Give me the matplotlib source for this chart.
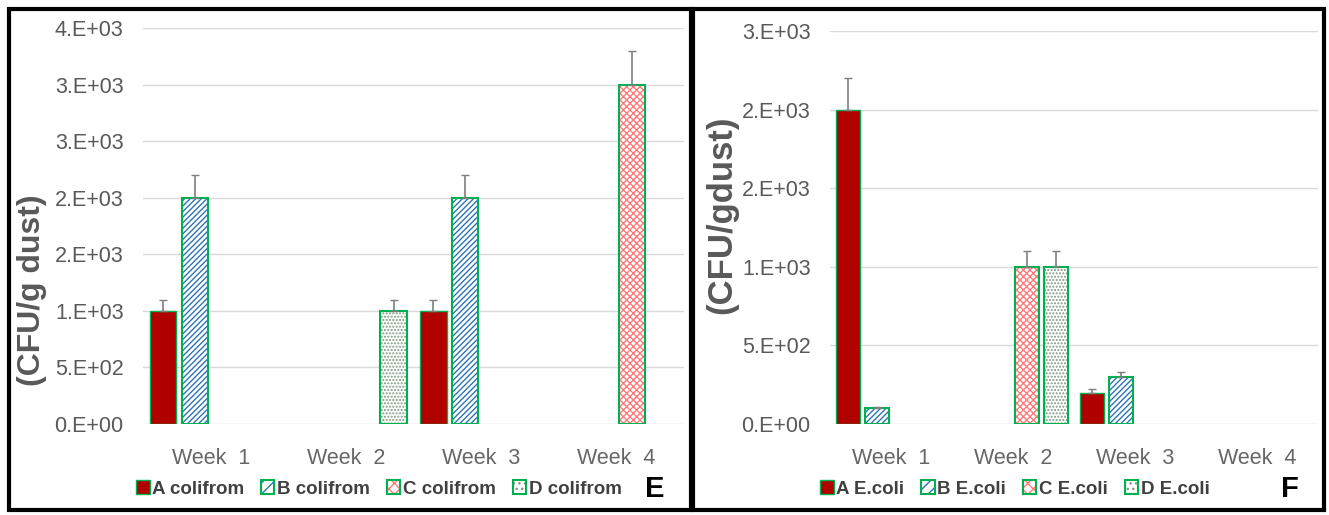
import numpy as np
import matplotlib
matplotlib.use("Agg")
import matplotlib.pyplot as plt
from matplotlib.patches import Patch, Rectangle
from matplotlib.legend_handler import HandlerTuple
from matplotlib.ticker import FuncFormatter, MultipleLocator

plt.rcParams['font.family'] = ['Liberation Sans', 'DejaVu Sans']
plt.rcParams['hatch.linewidth'] = 1.0

nan = np.nan
weeks = ["Week  1", "Week  2", "Week  3", "Week  4"]

# panel E - colifrom counts (CFU/g dust)
coli_labels = ["A colifrom", "B colifrom", "C colifrom", "D colifrom"]
coli_A = [1000, nan, 1000, nan]
coli_B = [2000, nan, 2000, nan]
coli_C = [nan, nan, nan, 3000]
coli_D = [nan, 1000, nan, nan]
coli_A_err = [100, nan, 100, nan]
coli_B_err = [200, nan, 200, nan]
coli_C_err = [nan, nan, nan, 300]
coli_D_err = [nan, 100, nan, nan]

# panel F - E.coli counts (CFU/g dust)
ecoli_labels = ["A E.coli", "B E.coli", "C E.coli", "D E.coli"]
ecoli_A = [2000, nan, 200, nan]
ecoli_B = [100, nan, 300, nan]
ecoli_C = [nan, 1000, nan, nan]
ecoli_D = [nan, 1000, nan, nan]
ecoli_A_err = [200, nan, 20, nan]
ecoli_B_err = [8, nan, 30, nan]
ecoli_C_err = [nan, 100, nan, nan]
ecoli_D_err = [nan, 100, nan, nan]

EDGE = "#00B050"
GREY = "#595959"
# (face, hatch, hatch colour) for series A..D
styles = [
    ("#B00000", None, None),
    ("white", "//////", "#2E75B6"),
    ("white", "xxxxx", "#FF7B7B"),
    ("white", ".....", "#7F9A7F"),
]


def excel_sci(v, pos):
    if v == 0:
        return "0.E+00"
    e = int(np.floor(np.log10(abs(v))))
    m = int(np.floor(v / 10 ** e + 0.5))
    if m == 10:
        m, e = 1, e + 1
    return f"{m}.E+{e:02d}"


def draw_panel(ax, series, errors, ymax):
    x = np.arange(len(weeks))
    step, width = 0.235, 0.195
    for i, (vals, errs) in enumerate(zip(series, errors)):
        vals = np.array(vals, dtype=float)
        errs = np.array(errs, dtype=float)
        ok = ~np.isnan(vals)
        xs = x[ok] + (i - 1.5) * step
        face, hatch, hcol = styles[i]
        if hatch is None:
            ax.bar(xs, vals[ok], width, color=face, edgecolor=EDGE,
                   linewidth=1.0, zorder=2)
        else:
            ax.bar(xs, vals[ok], width, facecolor=face, edgecolor=hcol,
                   hatch=hatch, linewidth=0, zorder=2)
            ax.bar(xs, vals[ok], width, fill=False, edgecolor=EDGE,
                   linewidth=1.5, zorder=3)
        ax.errorbar(xs, vals[ok], yerr=[np.zeros(ok.sum()), errs[ok]],
                    fmt="none", ecolor="#7F7F7F", elinewidth=1.2,
                    capsize=3, capthick=1.0, zorder=4)
    ax.set_xlim(-0.5, len(weeks) - 0.5)
    ax.set_ylim(0, ymax)
    ax.yaxis.set_major_locator(MultipleLocator(500))
    ax.yaxis.set_major_formatter(FuncFormatter(excel_sci))
    ax.set_xticks(x)
    ax.set_xticklabels(weeks)
    ax.grid(axis="y", color="#D9D9D9", linewidth=1.0, zorder=0)
    ax.set_axisbelow(True)
    for s in ax.spines.values():
        s.set_visible(False)
    ax.tick_params(axis="y", length=0, pad=14, labelsize=15.5, labelcolor=GREY)
    ax.tick_params(axis="x", length=0, pad=17, labelsize=15.5, labelcolor="#666666")


def legend_handles():
    hs = []
    for face, hatch, hcol in styles:
        if hatch is None:
            hs.append(Patch(facecolor=face, edgecolor=EDGE, linewidth=1.0))
        else:
            hs.append((Patch(facecolor=face, edgecolor=hcol, hatch=hatch[:3], linewidth=0),
                       Patch(fill=False, edgecolor=EDGE, linewidth=1.5)))
    return hs


W, H = 1329, 515
fig = plt.figure(figsize=(W / 100, H / 100), dpi=100)

axE = fig.add_axes([143 / W, 1 - 424 / H, (684 - 143) / W, (424 - 28) / H])
draw_panel(axE, [coli_A, coli_B, coli_C, coli_D],
           [coli_A_err, coli_B_err, coli_C_err, coli_D_err], 3500)

axF = fig.add_axes([830 / W, 1 - 424 / H, (1318 - 830) / W, (424 - 31) / H])
draw_panel(axF, [ecoli_A, ecoli_B, ecoli_C, ecoli_D],
           [ecoli_A_err, ecoli_B_err, ecoli_C_err, ecoli_D_err], 2500)

# y labels
fig.text(32 / W, 1 - 290 / H, "(CFU/g dust)", rotation=90, ha="center",
         va="center", fontsize=23, fontweight="bold", color=GREY)
fig.text(722 / W, 1 - 215 / H, "(CFU/gdust)", rotation=90, ha="center",
         va="center", fontsize=25, fontweight="bold", color=GREY)

# legends
for labels, cx in [(coli_labels, 379), (ecoli_labels, 1015)]:
    fig.legend(legend_handles(), labels, loc="center",
               bbox_to_anchor=(cx / W, 1 - 489 / H), ncol=4, frameon=False,
               handler_map={tuple: HandlerTuple(ndivide=1)},
               handlelength=0.7, handleheight=0.7, handletextpad=0.15,
               columnspacing=0.9, prop={"size": 13.5, "weight": "bold"},
               labelcolor="#404040")

fig.text(655 / W, 1 - 489 / H, "E", ha="center", va="center",
         fontsize=21, fontweight="bold", color="black")
fig.text(1290 / W, 1 - 489 / H, "F", ha="center", va="center",
         fontsize=21, fontweight="bold", color="black")

# panel frames
for x0, x1 in [(9, 691), (693, 1324)]:
    fig.patches.append(Rectangle((x0 / W, 1 - 510 / H), (x1 - x0) / W,
                                 (510 - 9) / H, transform=fig.transFigure,
                                 fill=False, edgecolor="black", linewidth=3))

fig.savefig("out.png", dpi=100)
